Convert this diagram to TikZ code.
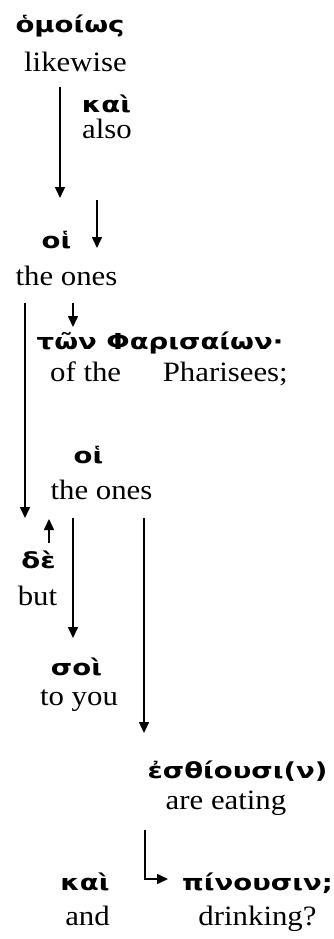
\documentclass[tikz,border=0pt]{standalone}
\usepackage{fontspec}
\setmainfont{Liberation Serif}[FakeStretch=1.1]
\newfontfamily\gkfont{DejaVu Sans}[FakeStretch=1.25]
\usetikzlibrary{arrows.meta}
\begin{document}
\begin{tikzpicture}[x=1pt,y=-1pt,
  gk/.style={anchor=base,inner sep=0pt,font=\gkfont\bfseries\fontsize{22}{23}\selectfont},
  en/.style={anchor=base,inner sep=0pt,font=\fontsize{28}{30}\selectfont},
  conn/.style={line width=1.6pt,-{Triangle[width=10pt,length=11pt]}}]
\useasboundingbox (0,0) rectangle (333,939);
% words
\node[gk] (g1) at (70,33) {ὁμοίως};
\node[en] (e1) at (75.5,72) {likewise};
\node[gk] (g2) at (106.5,113) {καὶ};
\node[en] (e2) at (107,139) {also};
\node[gk] (g3) at (56.5,248) {οἱ};
\node[en] (e3) at (66.5,285) {the ones};
\node[gk] (g4) at (160,349) {τῶν Φαρισαίων·};
\node[en,anchor=base west] (e4) at (50,381) {of the\hspace{34pt} Pharisees;};
\node[gk] (g5) at (88.5,463) {οἱ};
\node[en] (e5) at (101.5,499) {the ones};
\node[gk] (g6) at (38.5,568) {δὲ};
\node[en] (e6) at (37.5,605) {but};
\node[gk] (g7) at (76.5,675) {σοὶ};
\node[en] (e7) at (79,705) {to you};
\node[gk] (g8) at (237.5,778) {ἐσθίουσι(ν)};
\node[en] (e8) at (226,809) {are eating};
\node[gk] (g9) at (85,890) {καὶ};
\node[en] (e9) at (87.5,925) {and};
\node[gk] (g10) at (257.5,890) {πίνουσιν;};
\node[en] (e10) at (257.5,925) {drinking?};
% connector ends
\coordinate (a1s) at (60,87);   \coordinate (a1e) at (60,198);
\coordinate (a2s) at (97,200);  \coordinate (a2e) at (97,248);
\coordinate (a3s) at (25,303);  \coordinate (a3e) at (25,518);
\coordinate (a4s) at (73,303);  \coordinate (a4e) at (73,327);
\coordinate (a5s) at (49,543);  \coordinate (a5e) at (49,519);
\coordinate (a6s) at (73,518);  \coordinate (a6e) at (73,638);
\coordinate (a7s) at (144,518); \coordinate (a7e) at (144,733);
\coordinate (a8s) at (145,830); \coordinate (a8c) at (145,879); \coordinate (a8e) at (168,879);
\draw[conn] (a1s) -- (a1e);
\draw[conn] (a2s) -- (a2e);
\draw[conn] (a3s) -- (a3e);
\draw[conn] (a4s) -- (a4e);
\draw[conn] (a5s) -- (a5e);
\draw[conn] (a6s) -- (a6e);
\draw[conn] (a7s) -- (a7e);
\draw[conn] (a8s) -- (a8c) -- (a8e);
\end{tikzpicture}
\end{document}
